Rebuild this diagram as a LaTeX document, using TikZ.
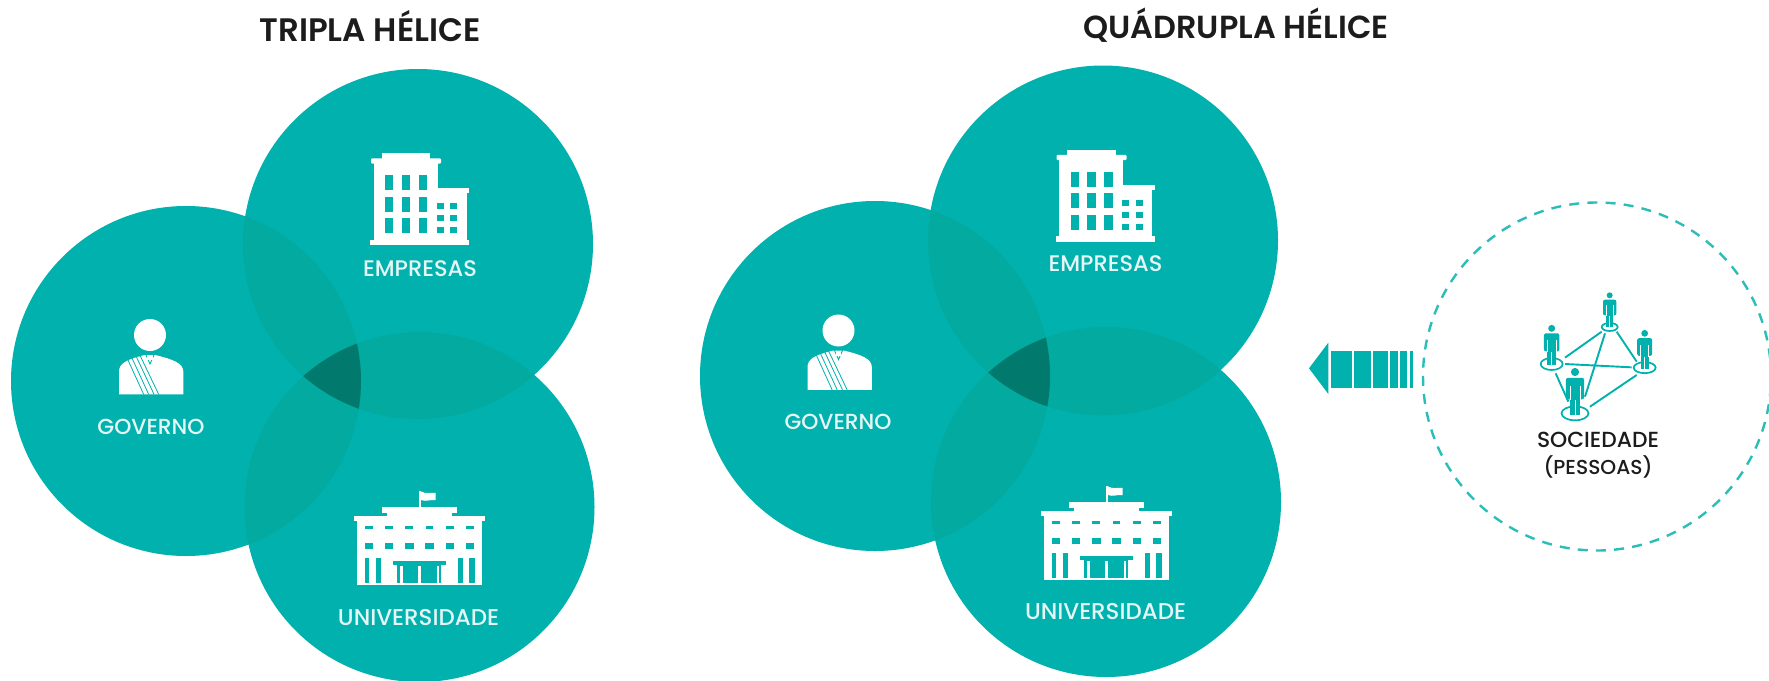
\documentclass[tikz,border=0pt]{standalone}
\usepackage{fontspec}
\setmainfont{Poppins}
\newfontfamily\medf{Poppins Medium}
\newfontfamily\semif{Poppins SemiBold}
\definecolor{tealbase}{HTML}{01B1AE}
\definecolor{teallens}{HTML}{03AA9F}
\definecolor{tealdark}{HTML}{02796D}
\definecolor{labelwhite}{HTML}{E4F6F5}
\definecolor{titleink}{HTML}{1C1C1C}
\definecolor{dashteal}{HTML}{2BBDB8}
\tikzset{
  x=1pt,y=-1pt,
  disc/.style={circle,fill=tealbase,minimum size=350pt,inner sep=0pt,outer sep=0pt},
  inkw/.style={fill=white,draw=none},
  inkt/.style={fill=tealbase,draw=none},
  lbl/.style={text=labelwhite,inner sep=0pt,font=\medf},
  ttl/.style={text=titleink,inner sep=0pt,font=\semif},
  soc/.style={text=titleink,inner sep=0pt,font=\medf},
  netline/.style={draw=tealbase,line width=1.9pt},
  ring/.style={draw=tealbase,line width=1.7pt,fill=white},
}
\newcommand{\fitw}[2]{\resizebox{#1pt}{!}{#2}}
% circles with overlaps
\newcommand{\venn}[4]{%
  \node[disc] (#1a) at (#2) {};
  \node[disc] (#1b) at (#3) {};
  \node[disc] (#1c) at (#4) {};
  \begin{scope}\clip (#2) circle (175pt);\fill[teallens] (#3) circle (175pt);\fill[teallens] (#4) circle (175pt);\end{scope}
  \begin{scope}\clip (#3) circle (175pt);\fill[teallens] (#4) circle (175pt);\end{scope}
  \begin{scope}\clip (#2) circle (175pt);\clip (#3) circle (175pt);\fill[tealdark] (#4) circle (175pt);\end{scope}
}
\newcommand{\officeicon}{%
 \begin{scope}[shift={(340,130)},x=.33333pt,y=-.33333pt]
  \fill[inkw] (125,70) rectangle (270,86);
  \fill[inkw,rounded corners=1pt] (93,85) rectangle (303,101);
  \fill[inkw] (101,100) rectangle (293,332);
  \fill[inkw] (293,186) rectangle (380,332);
  \fill[inkw] (293,175) rectangle (388,190);
  \fill[inkw] (90,329) rectangle (388,345);
  \foreach \wx in {135,185,236}\foreach \wy in {135,200,265}
    \fill[inkt] (\wx,\wy) rectangle ++(25,45);
  \foreach \wx in {290,331}\foreach \wy in {220,256,292}
    \fill[inkt] (\wx,\wy) rectangle ++(21,18);
 \end{scope}}
\newcommand{\govicon}{%
 \begin{scope}[shift={(90,300)},x=.33333pt,y=-.33333pt]
  \fill[inkw] (180,105) circle (16pt);
  \fill[inkw] (87,283) -- (87,215) .. controls (87,190) and (110,178) .. (165,165)
     -- (195,165) .. controls (250,178) and (280,190) .. (280,215) -- (280,283) -- cycle;
  \draw[tealbase,line width=.9pt] (165,158) -- (180,192) -- (195,158);
  \fill[inkw] (172,165) rectangle (188,181);
  \draw[tealbase,line width=.8pt] (113,178) -- (161,283);
  \draw[tealbase,line width=.8pt] (125,172) -- (176,283);
  \draw[tealbase,line width=.8pt] (138,168) -- (192,283);
  \draw[tealbase,line width=.8pt] (150,166) -- (206,283);
 \end{scope}}
\newcommand{\uniicon}{%
 \begin{scope}[shift={(330,480)},x=.33333pt,y=-.33333pt]
  \fill[inkw] (267,32) rectangle (273,84);
  \fill[inkw] (272,34) .. controls (290,44) and (300,36) .. (317,39) -- (317,60) .. controls (300,58) and (290,66) .. (272,60) -- cycle;
  \fill[inkw] (155,82) rectangle (382,98);
  \fill[inkw] (172,98) rectangle (365,110);
  \fill[inkw] (72,108) rectangle (465,122);
  \fill[inkw] (80,122) rectangle (455,316);
  \foreach \wx in {105,165,226,287,348,408} {
    \fill[inkt] (\wx,137) rectangle ++(23,10);
    \fill[inkt] (\wx-1,188) rectangle ++(26,20);
  }
  \foreach \wx/\ww in {105/13,138/16,385/13,418/16}
    \fill[inkt] (\wx,233) rectangle ++(\ww,77);
  \fill[inkt] (190,243) rectangle (348,255);
  \fill[inkt] (200,255) rectangle (333,310);
  \foreach \wx/\ww in {210/10,265/7,320/6}
    \fill[inkw] (\wx,258) rectangle ++(\ww,52);
 \end{scope}}
\newcommand{\person}[3]{% head x, head y, scale (zoom units)
 \begin{scope}[shift={(#1,#2)},x=#3*1pt,y=-#3*1pt]
  \fill[tealbase] (0,0) circle ({#3*9pt});
  \fill[tealbase,rounded corners=2pt] (-20,13) rectangle (20,60);
  \fill[tealbase] (-11,55) rectangle (11,95);
  \fill[white] (-.8,62) rectangle (.8,95);
  \fill[white] (-12,30) rectangle (-10,62);
  \fill[white] (10,30) rectangle (12,62);
 \end{scope}}
\begin{document}
\begin{tikzpicture}
\useasboundingbox (0,0) rectangle (1769,680);
\fill[white] (0,0) rectangle (1769,680);
% Tripla
\venn{l}{186,381}{418,244}{419.5,507}
% Quadrupla
\venn{r}{875,376}{1103,240.5}{1106,502}
% Titles
\node[ttl] (t1) at (370,26.5) {\fitw{221}{TRIPLA HÉLICE}};
\node[ttl] (t2) at (1236,25.5) {\fitw{305}{QUÁDRUPLA HÉLICE}};
% Icons left
\officeicon \govicon \uniicon
% Icons right
\begin{scope}[shift={(685.5,-3.5)}]\officeicon\end{scope}
\begin{scope}[shift={(688.5,-4.5)}]\govicon\end{scope}
\begin{scope}[shift={(687,-5)}]\uniicon\end{scope}
% Labels
\node[lbl] (l1) at (420,268.5) {\fitw{114}{EMPRESAS}};
\node[lbl] (l2) at (151,427) {\fitw{107}{GOVERNO}};
\node[lbl] (l3) at (418.5,617.5) {\fitw{161}{UNIVERSIDADE}};
\node[lbl] (r1) at (1105.5,264) {\fitw{114}{EMPRESAS}};
\node[lbl] (r2) at (838,422) {\fitw{107}{GOVERNO}};
\node[lbl] (r3) at (1105.5,611.5) {\fitw{161}{UNIVERSIDADE}};
% Society dashed circle
\draw[dashteal,line width=2.4pt,dash pattern=on 10pt off 8.2pt] (1597,376.5) circle (174pt);
% arrow and network in zoom coords
\begin{scope}[shift={(1290,190)},x=.33333pt,y=-.33333pt]
  \fill[tealbase] (57,535) -- (115,458) -- (115,612) -- cycle;
  \foreach \ax/\bx in {122/187,193/243,249/295,299/325,331/350,360/370}
    \fill[tealbase] (\ax,483) rectangle (\bx,593);
  \draw[netline] (825,503) -- (935,425);
  \draw[netline] (980,425) -- (1040,515);
  \draw[netline] (945,430) -- (885,620);
  \draw[netline] (825,522) -- (1025,532);
  \draw[netline] (797,550) -- (835,635);
  \draw[netline] (900,650) -- (1040,555);
  \draw[ring] (959,411) ellipse (8pt and 4pt);
  \draw[ring] (785,522) ellipse (11pt and 6pt);
  \draw[ring] (1064,533) ellipse (11pt and 5.5pt);
  \draw[ring] (855,670) ellipse (13.5pt and 7pt);
  \person{959}{316}{.33333}
  \person{785}{415}{.385}
  \person{1064}{430}{.375}
  \person{855}{546}{.455}
\end{scope}
\node[soc] (s1) at (1598,440) {\fitw{122}{SOCIEDADE}};
\node[soc] (s2) at (1598,467) {\fitw{109}{(PESSOAS)}};
\end{tikzpicture}
\end{document}
